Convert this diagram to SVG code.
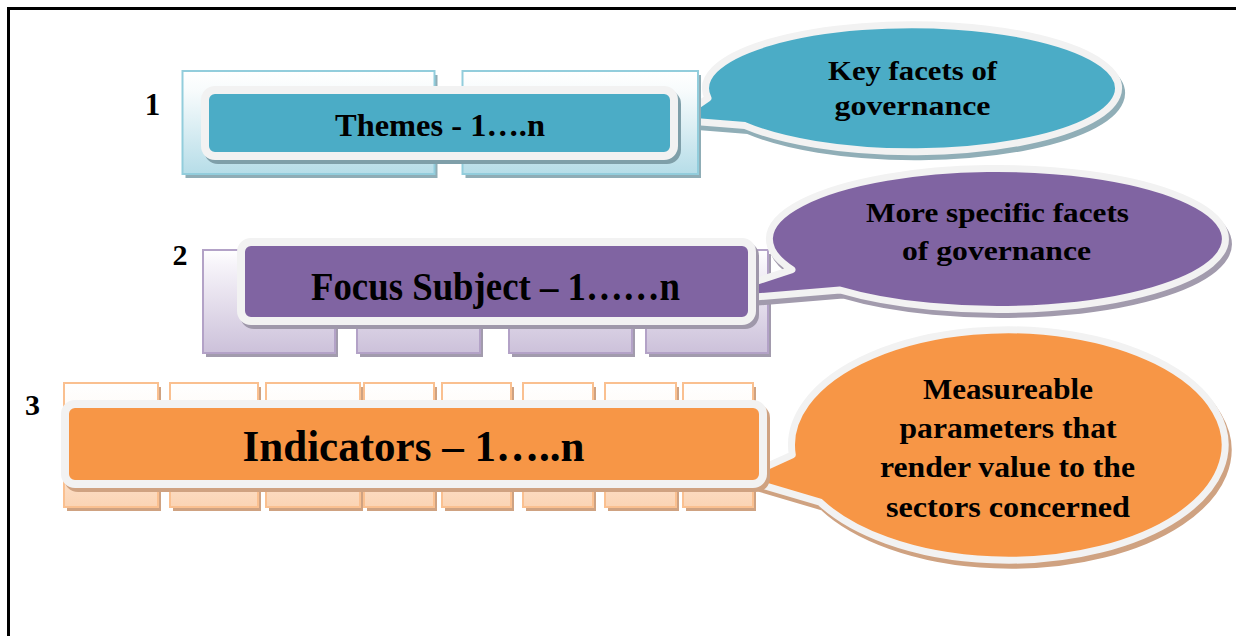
<svg xmlns="http://www.w3.org/2000/svg" width="1236" height="636" viewBox="0 0 1236 636">
<defs>
<linearGradient id="gB" x1="0" y1="0" x2="0" y2="1"><stop offset="0" stop-color="#ffffff"/><stop offset="0.2" stop-color="#f7fbfc"/><stop offset="1" stop-color="#b6dde8"/></linearGradient>
<linearGradient id="gP" x1="0" y1="0" x2="0" y2="1"><stop offset="0" stop-color="#ffffff"/><stop offset="0.15" stop-color="#f6f3f9"/><stop offset="1" stop-color="#ccc1da"/></linearGradient>
<linearGradient id="gO" x1="0" y1="0" x2="0" y2="1"><stop offset="0" stop-color="#ffffff"/><stop offset="0.2" stop-color="#fefbf8"/><stop offset="1" stop-color="#fbd4b4"/></linearGradient>
<path id="c1" d="M676,120 L708,98.1 A206.5,63.5 0 1 1 745,125.6 Z"/>
<path id="c2" d="M694,302 L792,269.6 A228,70.5 0 1 1 840,290 Z"/>
<path id="c3" d="M740.3,478.6 L792.3,454.9 A216.8,115.2 0 1 1 820,502.1 Z"/>
</defs>
<style>
.t{font-family:"Liberation Serif","Times New Roman",serif;font-weight:bold;fill:#000;text-anchor:middle}
.wf{stroke:#f2f2f2;stroke-width:8}
.cw{stroke:#f2f2f2;stroke-width:7;stroke-linejoin:round}
.bB{fill:url(#gB);stroke:#92cddc;stroke-width:2}
.bP{fill:url(#gP);stroke:#b3a2c7;stroke-width:2}
.bO{fill:url(#gO);stroke:#fac090;stroke-width:2}
.sB{fill:#8fadb6}
.sP{fill:#a29bad}
.sO{fill:#cfa281}
.csB{fill:#90aeb7;stroke:#90aeb7;stroke-width:7;stroke-linejoin:round}
.csP{fill:#a29bad;stroke:#a29bad;stroke-width:7;stroke-linejoin:round}
.csO{fill:#cfa281;stroke:#cfa281;stroke-width:7;stroke-linejoin:round}
</style>
<rect width="1236" height="636" fill="#ffffff"/>
<path d="M8.5,636 V8.5 H1236" fill="none" stroke="#000" stroke-width="3"/>

<g id="connectors"></g>

<!-- Level 1 -->
<g id="callout-themes">
<use href="#c1" class="csB" transform="translate(3,5)"/>
<use href="#c1" class="cw" fill="#4bacc6"/>
<text class="t" font-size="28" x="912.5" y="80" textLength="169" lengthAdjust="spacingAndGlyphs">Key facets of</text>
<text class="t" font-size="28" x="912.5" y="115" textLength="156" lengthAdjust="spacingAndGlyphs">governance</text>
</g>
<g id="themes">
<rect class="sB" x="185.5" y="75" width="252" height="103"/>
<rect class="sB" x="465.5" y="75" width="235.5" height="103"/>
<rect class="bB" x="182.5" y="71" width="252" height="103"/>
<rect class="bB" x="462.5" y="71" width="235.5" height="103"/>
<rect fill="#7f9fa9" x="204" y="90" width="477" height="74" rx="14"/>
<rect class="wf" fill="#4bacc6" x="205" y="90" width="469" height="66" rx="10"/>
<text class="t" font-size="32" x="440" y="136" textLength="210" lengthAdjust="spacingAndGlyphs">Themes - 1….n</text>
<text class="t" font-size="31" x="152.5" y="115">1</text>
</g>

<!-- Level 2 -->
<g id="focus-subject-back">
<rect class="sP" x="206" y="254" width="132" height="103"/>
<rect class="sP" x="360" y="254" width="123" height="103"/>
<rect class="sP" x="512" y="254" width="123" height="103"/>
<rect class="sP" x="649" y="254" width="122" height="103"/>
<rect class="bP" x="203" y="250" width="132" height="103"/>
<rect class="bP" x="357" y="250" width="123" height="103"/>
<rect class="bP" x="509" y="250" width="123" height="103"/>
<rect class="bP" x="646" y="250" width="122" height="103"/>
</g>
<g id="callout-focus">
<use href="#c2" class="csP" transform="translate(3,5)"/>
<use href="#c2" class="cw" fill="#8064a2"/>
<text class="t" font-size="28" x="997.5" y="222" textLength="263" lengthAdjust="spacingAndGlyphs">More specific facets</text>
<text class="t" font-size="28" x="996.5" y="260" textLength="189" lengthAdjust="spacingAndGlyphs">of governance</text>
</g>
<g id="focus-subject">
<rect fill="#9f98aa" x="240" y="242" width="519" height="87" rx="14"/>
<rect class="wf" fill="#8064a2" x="241" y="242" width="511" height="79" rx="10"/>
<text class="t" font-size="41" x="495.5" y="300" textLength="369" lengthAdjust="spacingAndGlyphs">Focus Subject – 1……n</text>
<text class="t" font-size="30" x="180" y="265">2</text>
</g>

<!-- Level 3 -->
<g id="indicators-back">
<rect class="sO" x="67" y="387" width="94" height="124"/>
<rect class="sO" x="173" y="387" width="88" height="124"/>
<rect class="sO" x="269" y="387" width="94" height="124"/>
<rect class="sO" x="367" y="387" width="70" height="124"/>
<rect class="sO" x="445" y="387" width="69" height="124"/>
<rect class="sO" x="526" y="387" width="70" height="124"/>
<rect class="sO" x="608" y="387" width="71" height="124"/>
<rect class="sO" x="686" y="387" width="70" height="124"/>
<rect class="bO" x="64" y="383" width="94" height="124"/>
<rect class="bO" x="170" y="383" width="88" height="124"/>
<rect class="bO" x="266" y="383" width="94" height="124"/>
<rect class="bO" x="364" y="383" width="70" height="124"/>
<rect class="bO" x="442" y="383" width="69" height="124"/>
<rect class="bO" x="523" y="383" width="70" height="124"/>
<rect class="bO" x="605" y="383" width="71" height="124"/>
<rect class="bO" x="683" y="383" width="70" height="124"/>
</g>
<g id="callout-indicators">
<use href="#c3" class="csO" transform="translate(3,5)"/>
<use href="#c3" class="cw" fill="#f79646"/>
<text class="t" font-size="29" x="1008" y="399" textLength="170" lengthAdjust="spacingAndGlyphs">Measureable</text>
<text class="t" font-size="29" x="1008" y="438" textLength="217" lengthAdjust="spacingAndGlyphs">parameters that</text>
<text class="t" font-size="29" x="1007.5" y="477" textLength="255" lengthAdjust="spacingAndGlyphs">render value to the</text>
<text class="t" font-size="29" x="1008" y="517" textLength="244" lengthAdjust="spacingAndGlyphs">sectors concerned</text>
</g>
<g id="indicators">
<rect fill="#cfa281" x="64" y="404" width="706" height="88" rx="14"/>
<rect class="wf" fill="#f79646" x="65" y="404" width="698" height="80" rx="10"/>
<text class="t" font-size="44" x="413.5" y="461" textLength="342" lengthAdjust="spacingAndGlyphs">Indicators – 1…..n</text>
<text class="t" font-size="30" x="32.5" y="415">3</text>
</g>
</svg>
